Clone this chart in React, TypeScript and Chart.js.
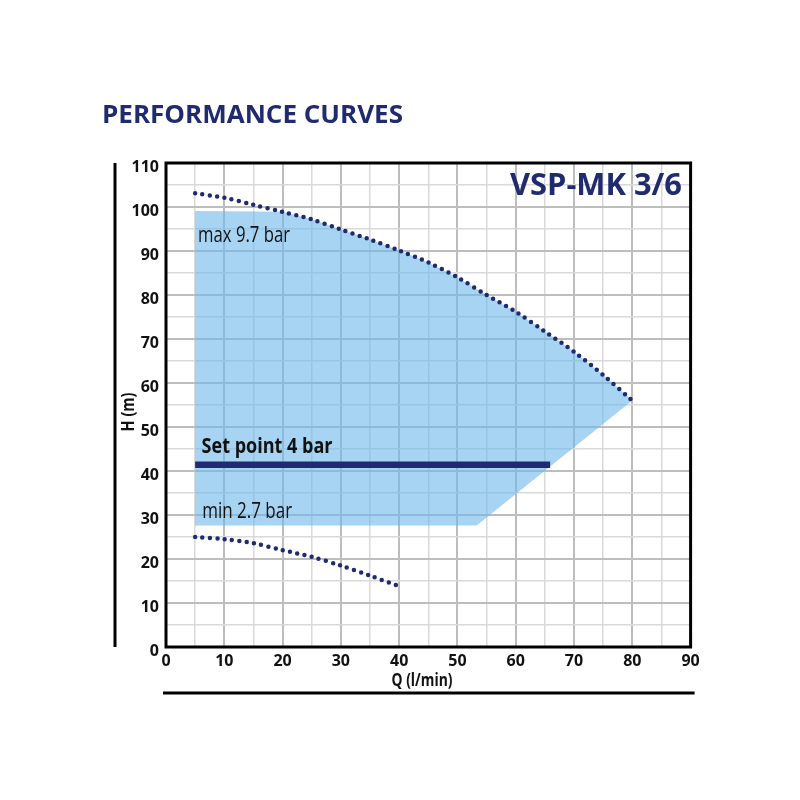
import React, { useEffect, useRef } from "react";
import { Chart, registerables } from "chart.js";

Chart.register(...registerables);

// ---- data ----
const upperQ = [5, 10, 15, 20, 25, 30, 35, 40, 45, 50, 55, 60, 65, 70, 75, 80];
const upperH = [103.1, 102.1, 100.5, 98.9, 97.2, 94.9, 92.6, 90.1, 87.4, 84.0, 80.0, 76.2, 71.7, 67.1, 61.8, 56.0];

const lowerQ = [5, 10, 15, 20, 25, 30, 35, 40.2];
const lowerH = [25.0, 24.5, 23.6, 22.0, 20.5, 18.5, 16.2, 13.7];

const areaQ = [5, 20, 25, 30, 35, 40, 45, 50, 55, 60, 65, 70, 75, 80, 53.3, 5];
const areaH = [99.1, 98.9, 97.2, 94.9, 92.6, 90.1, 87.4, 84.0, 80.0, 76.2, 71.7, 67.1, 61.8, 56.0, 27.6, 27.6];

const setPointQ = [5, 65.9];
const setPointH = [41.4, 41.4];

const xMin = 0, xMax = 90, yMin = 0, yMax = 110;
const tickStep = 5;
const labelStep = 10;

const NAVY = "#1f2b6e";
const TEXT_FONT = "'Open Sans', 'Liberation Sans', sans-serif";

function pts(xs: number[], ys: number[]) {
  return xs.map((x, i) => ({ x, y: ys[i] }));
}

function drawFitted(
  ctx: CanvasRenderingContext2D,
  s: string,
  x: number,
  y: number,
  w: number,
  font: string,
  color: string,
  rotate = 0,
  center = false
) {
  ctx.save();
  ctx.font = font;
  ctx.fillStyle = color;
  ctx.textBaseline = "alphabetic";
  ctx.textAlign = "left";
  const m = ctx.measureText(s).width;
  ctx.translate(x, y);
  if (rotate) ctx.rotate(rotate);
  ctx.scale(w / m, 1);
  ctx.fillText(s, center ? -m / 2 : 0, 0);
  ctx.restore();
}

const decor = {
  id: "decor",
  afterDatasetsDraw(chart: any) {
    const ctx: CanvasRenderingContext2D = chart.ctx;
    const a = chart.chartArea;
    const xs = chart.scales.x;
    const ys = chart.scales.y;
    ctx.save();
    // plot border
    ctx.strokeStyle = "#000";
    ctx.lineWidth = 3;
    ctx.strokeRect(a.left, a.top, a.right - a.left, a.bottom - a.top);
    // separate left rule and bottom rule
    ctx.beginPath();
    ctx.moveTo(115, a.top);
    ctx.lineTo(115, a.bottom);
    ctx.moveTo(a.left - 3, 693);
    ctx.lineTo(a.right + 4, 693);
    ctx.stroke();
    ctx.restore();

    // in-plot labels
    drawFitted(ctx, "max 9.7 bar", xs.getPixelForValue(5.5), ys.getPixelForValue(92.0), 92, `400 21px ${TEXT_FONT}`, "#111");
    drawFitted(ctx, "Set point 4 bar", xs.getPixelForValue(6.1), ys.getPixelForValue(44.0), 131, `700 22px ${TEXT_FONT}`, "#111");
    drawFitted(ctx, "min 2.7 bar", xs.getPixelForValue(6.2), ys.getPixelForValue(29.3), 90, `400 21px ${TEXT_FONT}`, "#111");
    drawFitted(ctx, "VSP-MK 3/6", 510, 195, 172, `700 31px ${TEXT_FONT}`, NAVY);

    // page title and axis titles
    drawFitted(ctx, "PERFORMANCE CURVES", 102, 123, 301, `700 25px ${TEXT_FONT}`, NAVY);
    drawFitted(ctx, "Q (l/min)", 422, 686, 61, `700 17px ${TEXT_FONT}`, "#111", 0, true);
    drawFitted(ctx, "H (m)", 134, 412, 39, `700 17px ${TEXT_FONT}`, "#111", -Math.PI / 2, true);
  },
};

const gridColor = (ctx: any) =>
  ctx.tick && ctx.tick.value % labelStep === 0 ? "#bdbdbd" : "#d9d9d9";
const gridWidth = (ctx: any) =>
  ctx.tick && ctx.tick.value % labelStep === 0 ? 2 : 1.5;

export default function App() {
  const ref = useRef<HTMLCanvasElement | null>(null);

  useEffect(() => {
    if (!ref.current) return;
    const chart = new Chart(ref.current, {
      type: "scatter",
      data: {
        datasets: [
          {
            label: "max curve",
            data: pts(upperQ, upperH),
            showLine: true,
            borderColor: NAVY,
            borderWidth: 4.5,
            borderDash: [0, 7.4],
            borderCapStyle: "round",
            pointRadius: 0,
            tension: 0.3,
            fill: false,
          },
          {
            label: "min curve",
            data: pts(lowerQ, lowerH),
            showLine: true,
            borderColor: NAVY,
            borderWidth: 4.5,
            borderDash: [0, 7.4],
            borderCapStyle: "round",
            pointRadius: 0,
            tension: 0.3,
            fill: false,
          },
          {
            label: "set point",
            data: pts(setPointQ, setPointH),
            showLine: true,
            borderColor: NAVY,
            borderWidth: 6.5,
            borderCapStyle: "butt",
            pointRadius: 0,
            fill: false,
          },
          {
            label: "range",
            data: pts(areaQ, areaH),
            showLine: true,
            borderWidth: 0,
            borderColor: "rgba(0,0,0,0)",
            backgroundColor: "rgba(107,183,233,0.6)",
            pointRadius: 0,
            tension: 0,
            fill: "shape",
          },
        ],
      } as any,
      options: {
        animation: false,
        responsive: false,
        devicePixelRatio: 1,
        layout: { padding: { left: 100, top: 163, right: 109.4, bottom: 0 } },
        plugins: {
          legend: { display: false },
          tooltip: { enabled: false },
          title: { display: false },
        },
        scales: {
          x: {
            type: "linear",
            min: xMin,
            max: xMax,
            afterFit: (s: any) => {
              s.height = 153;
            },
            border: { display: false },
            grid: { color: gridColor, lineWidth: gridWidth, drawTicks: false },
            ticks: {
              stepSize: tickStep,
              autoSkip: false,
              maxRotation: 0,
              padding: 5,
              color: "#111",
              font: { family: TEXT_FONT, size: 16, weight: "bold" },
              callback: (v: any) => (Number(v) % labelStep === 0 ? String(v) : ""),
            },
          },
          y: {
            type: "linear",
            min: yMin,
            max: yMax,
            afterFit: (s: any) => {
              s.width = 66;
            },
            border: { display: false },
            grid: { color: gridColor, lineWidth: gridWidth, drawTicks: false },
            ticks: {
              stepSize: tickStep,
              autoSkip: false,
              padding: 7,
              labelOffset: 4,
              color: "#111",
              font: { family: TEXT_FONT, size: 16, weight: "bold" },
              callback: (v: any) => (Number(v) % labelStep === 0 ? String(v) : ""),
            },
          },
        },
      } as any,
      plugins: [decor],
    });
    return () => chart.destroy();
  }, []);

  return (
    <div style={{ position: "absolute", left: 0, top: 0, width: 800, height: 800, background: "#fff" }}>
      <canvas ref={ref} width={800} height={800} style={{ width: 800, height: 800, display: "block" }} />
    </div>
  );
}
